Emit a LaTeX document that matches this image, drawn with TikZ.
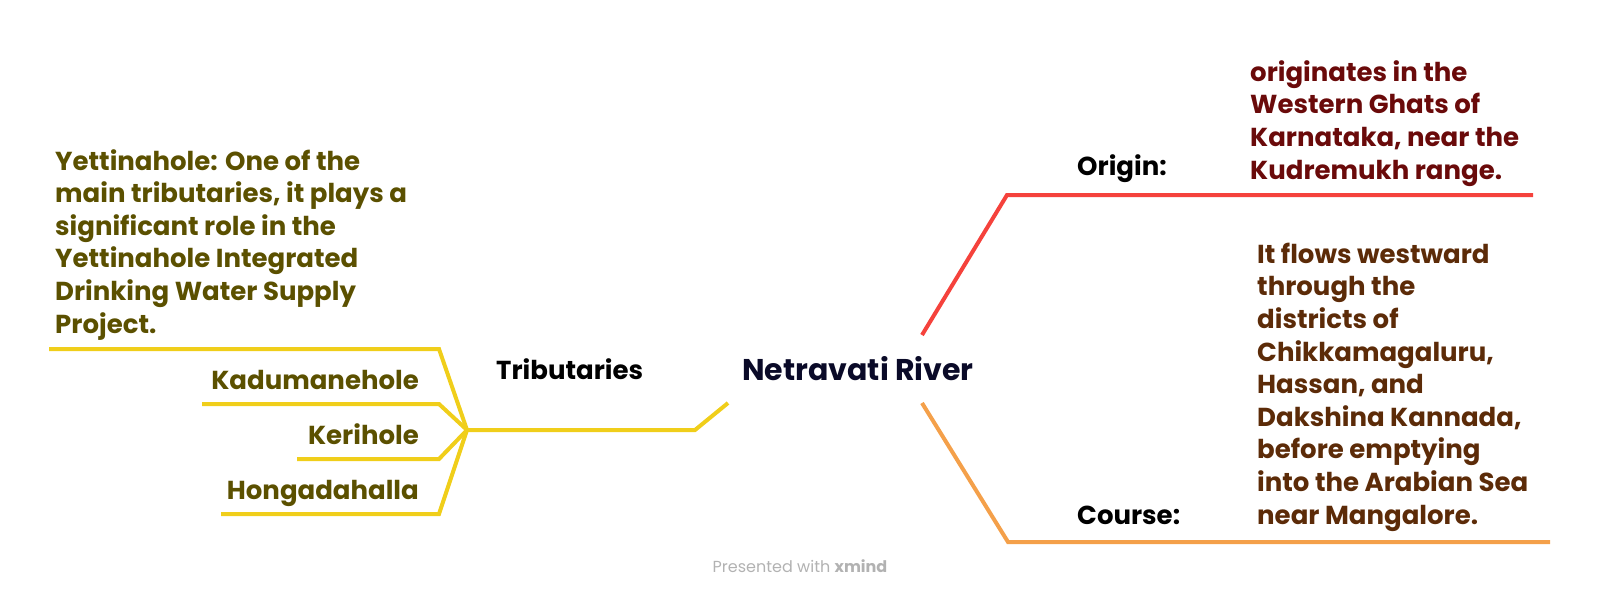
\documentclass[tikz,border=0pt]{standalone}
\usepackage{fontspec}
\setmainfont{Poppins}
\definecolor{ylw}{HTML}{F0CE1A}
\definecolor{olv}{HTML}{5B5000}
\definecolor{redl}{HTML}{F5423C}
\definecolor{orgl}{HTML}{F4A04A}
\definecolor{drd}{HTML}{6A0A0A}
\definecolor{brn}{HTML}{5C2B08}
\definecolor{navy}{HTML}{0A0A28}
\tikzset{
  rootbox/.style={inner sep=0pt, font=\fontsize{30}{36}\selectfont\bfseries, text=navy},
  lbl/.style={inner sep=0pt, font=\fontsize{26}{30}\selectfont\bfseries, text=black},
  body/.style={inner sep=0pt, align=left, font=\fontsize{26}{32.6}\selectfont\bfseries},
  yl/.style={draw=ylw, line width=4pt, line join=miter},
  rl/.style={draw=redl, line width=4pt},
  ol/.style={draw=orgl, line width=4pt},
}
\begin{document}
\begin{tikzpicture}[x=1pt,y=-1pt]
\useasboundingbox (0,0) rectangle (1600,598);
% central
\node[rootbox, anchor=base] (root) at (858,380) {Netravati River};
% left
\node[lbl, anchor=base west] (trib) at (496,379) {Tributaries};
\node[body, text=olv, anchor=base west] (yet) at (55,333) {Yettinahole: One of the\\main tributaries, it plays a\\significant role in the\\Yettinahole Integrated\\Drinking Water Supply\\Project.};
\node[body, text=olv, anchor=base east] (kad) at (419,389) {Kadumanehole};
\node[body, text=olv, anchor=base east] (ker) at (419,444) {Kerihole};
\node[body, text=olv, anchor=base east] (hon) at (419,499) {Hongadahalla};
% right
\node[lbl, anchor=base west] (orig) at (1077,175) {Origin:};
\node[lbl, anchor=base west] (cour) at (1077,524) {Course:};
\node[body, text=drd, anchor=base west] (origt) at (1250,179) {originates in the\\Western Ghats of\\Karnataka, near the\\Kudremukh range.};
\node[body, text=brn, anchor=base west] (court) at (1257,524) {It flows westward\\through the\\districts of\\Chikkamagaluru,\\Hassan, and\\Dakshina Kannada,\\before emptying\\into the Arabian Sea\\near Mangalore.};
% footer
\node[inner sep=0pt, font=\fontsize{16}{18}\selectfont, text=black!30, anchor=base] (foot) at (800,572) {Presented with \textbf{xmind}};
% coordinates
\coordinate (ry) at (728,403);
\coordinate (rb) at (695,430);
\coordinate (tj) at (467,430);
\coordinate (c1) at (439,349); \coordinate (e1) at (49,349);
\coordinate (c2) at (439,404); \coordinate (e2) at (202,404);
\coordinate (c3) at (439,459); \coordinate (e3) at (297,459);
\coordinate (c4) at (439,514); \coordinate (e4) at (221,514);
\coordinate (rs) at (922,335); \coordinate (rc) at (1007,195); \coordinate (re) at (1533,195);
\coordinate (os) at (922,403); \coordinate (oc) at (1008,542); \coordinate (oe) at (1550,542);
% connectors
\draw[yl] (ry) -- (rb) -- (tj);
\draw[yl] (tj) -- (c1) -- (e1);
\draw[yl] (tj) -- (c2) -- (e2);
\draw[yl] (tj) -- (c3) -- (e3);
\draw[yl] (tj) -- (c4) -- (e4);
\draw[rl] (rs) -- (rc) -- (re);
\draw[ol] (os) -- (oc) -- (oe);
\end{tikzpicture}
\end{document}
